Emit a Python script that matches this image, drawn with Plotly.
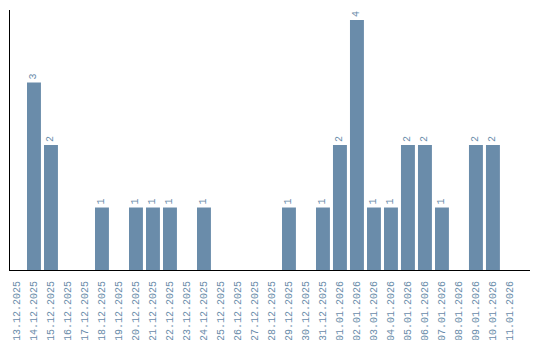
import plotly.graph_objects as go

dates = ["13.12.2025","14.12.2025","15.12.2025","16.12.2025","17.12.2025","18.12.2025",
         "19.12.2025","20.12.2025","21.12.2025","22.12.2025","23.12.2025","24.12.2025",
         "25.12.2025","26.12.2025","27.12.2025","28.12.2025","29.12.2025","30.12.2025",
         "31.12.2025","01.01.2026","02.01.2026","03.01.2026","04.01.2026","05.01.2026",
         "06.01.2026","07.01.2026","08.01.2026","09.01.2026","10.01.2026","11.01.2026"]
counts = [0,3,2,0,0,1,0,1,1,1,0,1,0,0,0,0,1,0,1,2,4,1,1,2,2,1,0,2,2,0]

labels = [str(c) if c > 0 else "" for c in counts]
color = "#6a8caa"
font = "Liberation Mono"

fig = go.Figure(go.Bar(
    x=dates, y=counts, marker_color=color, marker_line_width=0,
    text=labels, textposition="outside", textangle=-90,
    textfont=dict(family=font, size=10, color=color),
    cliponaxis=False,
))
fig.update_layout(
    width=540, height=340, margin=dict(l=10, r=10, t=10, b=70),
    plot_bgcolor="white", paper_bgcolor="white", bargap=0.18,
    showlegend=False,
)
fig.update_xaxes(type="category", range=[-0.41, 30.18], tickangle=-90, showline=True,
                 linecolor="black", linewidth=1, showgrid=False, ticks="",
                 automargin=False, ticklabelstandoff=6,
                 tickfont=dict(family=font, size=10, color=color))
fig.update_yaxes(range=[0, 4.16], showline=True, linecolor="black", linewidth=1,
                 showgrid=False, showticklabels=False, ticks="", zeroline=False)
fig.write_html("out.html")
